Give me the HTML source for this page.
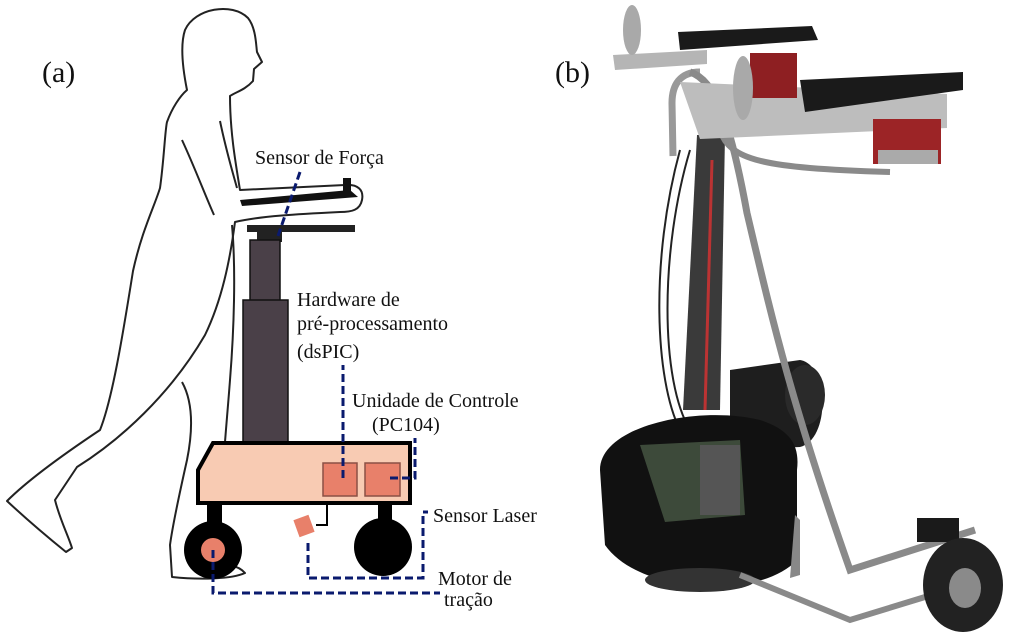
<!DOCTYPE html>
<html><head><meta charset="utf-8"><style>
html,body{margin:0;padding:0;background:#fff;}
svg{display:block;}
text{font-family:"Liberation Serif",serif;fill:#111;}
</style></head><body>
<svg width="1013" height="640" viewBox="0 0 1013 640" xmlns="http://www.w3.org/2000/svg">
<rect width="1013" height="640" fill="#fff"/>
<!-- human outline -->
<g fill="none" stroke="#222" stroke-width="2" stroke-linejoin="round">
<path d="M187,90 C183,70 180,45 185,30 C195,8 232,2 248,18 C256,28 256,45 257,52 L262,62 L254,69 L253,81 C245,90 236,92 230,96 C230,130 235,160 240,190 C280,188 320,186 345,185 C358,184 364,190 362,200 C360,210 352,212 340,212 C300,214 260,216 235,222 C230,260 222,300 205,335 C170,395 120,440 77,467 L55,500 C60,520 68,535 72,548 L66,552 C45,535 22,515 7,501 C30,478 70,450 100,430 C112,400 122,340 133,271 C142,230 155,205 160,188 C164,160 165,130 167,122 C172,108 180,96 187,90 Z"/>
<path d="M182,140 C195,168 205,195 214,215"/>
<path d="M220,121 C226,150 232,170 237,188"/>
<path d="M182,382 C192,400 194,425 187,460 C178,500 172,530 170,545 L172,577 C200,580 232,579 245,573 C238,565 225,563 212,566"/>
<path d="M232,225 C236,270 234,330 230,380 C227,420 222,470 220,520"/>
</g>
<!-- walker -->
<path d="M240,200 L350,190 L358,197 L242,206 Z" fill="#111"/>
<rect x="343" y="178" width="8" height="14" fill="#111"/>
<rect x="247" y="225" width="108" height="7" fill="#222"/>
<rect x="257" y="232" width="25" height="10" fill="#222"/>
<rect x="250" y="240" width="30" height="62" fill="#4a4048" stroke="#111" stroke-width="1.5"/>
<rect x="243" y="300" width="45" height="145" fill="#4a4048" stroke="#111" stroke-width="1.5"/>
<path d="M213,443 L410,443 L410,503 L198,503 L198,470 Z" fill="#f8cbb3" stroke="#000" stroke-width="4"/>
<rect x="323" y="463" width="34" height="33" fill="#e8806a" stroke="#8a5045" stroke-width="1.5"/>
<rect x="365" y="463" width="35" height="33" fill="#e8806a" stroke="#8a5045" stroke-width="1.5"/>
<rect x="207" y="503" width="15" height="22" fill="#000"/>
<rect x="378" y="503" width="14" height="22" fill="#000"/>
<circle cx="213" cy="550" r="29" fill="#000"/>
<circle cx="213" cy="550" r="12" fill="#e8806a"/>
<circle cx="383" cy="547" r="29" fill="#000"/>
<path d="M327,503 L327,525 L316,525" fill="none" stroke="#000" stroke-width="2"/>
<rect x="296" y="517" width="16" height="18" fill="#e8806a" transform="rotate(-20 304 526)"/>
<!-- dashed connectors -->
<g fill="none" stroke="#0a1a6e" stroke-width="3" stroke-dasharray="8,4">
<path d="M300,172 L278,236"/>
<path d="M343,478 L343,365"/>
<path d="M390,478 L415,478 L415,438"/>
<path d="M308,543 L308,578 L423,578 L423,512 L428,512"/>
<path d="M213,550 L213,593 L440,593"/>
</g>
<!-- labels -->
<text x="42" y="82" font-size="30">(a)</text>
<text x="555" y="82" font-size="30">(b)</text>
<text x="255" y="164" font-size="20">Sensor de Força</text>
<text x="297" y="306" font-size="20">Hardware de</text>
<text x="297" y="330" font-size="20">pré-processamento</text>
<text x="297" y="358" font-size="20">(dsPIC)</text>
<text x="352" y="407" font-size="20">Unidade de Controle</text>
<text x="372" y="431" font-size="20">(PC104)</text>
<text x="433" y="522" font-size="20">Sensor Laser</text>
<text x="438" y="585" font-size="20">Motor de</text>
<text x="444" y="606" font-size="20">tração</text>
<!-- photo (b) approximation -->
<g>
<path d="M730,370 L800,360 C830,365 830,440 800,447 L730,450 Z" fill="#1e1e1e"/>
<ellipse cx="805" cy="395" rx="20" ry="30" fill="#2a2a2a"/>
<path d="M697,135 L725,135 L720,410 L683,410 Z" fill="#3a3a3a"/>
<path d="M712,160 L705,410" stroke="#b33" stroke-width="3"/>
<path d="M690,150 C660,250 660,380 690,430" fill="none" stroke="#222" stroke-width="2"/>
<path d="M680,150 C650,260 655,380 680,430" fill="none" stroke="#222" stroke-width="2"/>
<path d="M600,470 C600,425 700,405 760,420 C790,430 800,445 797,470 L797,560 C760,600 640,595 605,545 Z" fill="#111"/>
<ellipse cx="700" cy="580" rx="55" ry="12" fill="#333"/>
<path d="M640,445 L740,440 L745,515 L665,522 Z" fill="#3d4a3a"/>
<rect x="700" y="445" width="40" height="70" fill="#555"/>
<path d="M795,515 L800,520 L800,575 L790,578 Z" fill="#888"/>
<path d="M700,72 C680,72 672,85 672,103 L673,156" fill="none" stroke="#999" stroke-width="7"/>
<path d="M690,72 C715,80 730,120 747,213 C770,310 790,400 850,570 L975,530" fill="none" stroke="#8a8a8a" stroke-width="7"/>
<path d="M740,575 L850,620 L925,597" fill="none" stroke="#8a8a8a" stroke-width="6"/>
<path d="M720,130 C730,160 760,168 890,172" fill="none" stroke="#8a8a8a" stroke-width="6"/>
<path d="M613,55 L707,50 L707,64 L615,70 Z" fill="#b5b5b5"/>
<path d="M680,82 L947,94 L947,128 L700,139 Z" fill="#bdbdbd"/>
<path d="M678,32 L812,26 L818,40 L680,50 Z" fill="#1a1a1a"/>
<path d="M800,80 L963,72 L963,90 L805,112 Z" fill="#1a1a1a"/>
<rect x="750" y="53" width="47" height="45" fill="#8e1f22"/>
<rect x="873" y="119" width="68" height="45" fill="#9c2426"/>
<rect x="878" y="150" width="60" height="14" fill="#aaa"/>
<ellipse cx="632" cy="30" rx="9" ry="25" fill="#a9a9a9"/>
<ellipse cx="743" cy="88" rx="10" ry="32" fill="#a9a9a9"/>
<rect x="917" y="518" width="42" height="24" fill="#1a1a1a"/>
<ellipse cx="963" cy="585" rx="40" ry="47" fill="#222"/>
<ellipse cx="965" cy="588" rx="16" ry="20" fill="#8a8a8a"/>
</g>
</svg>
</body></html>
